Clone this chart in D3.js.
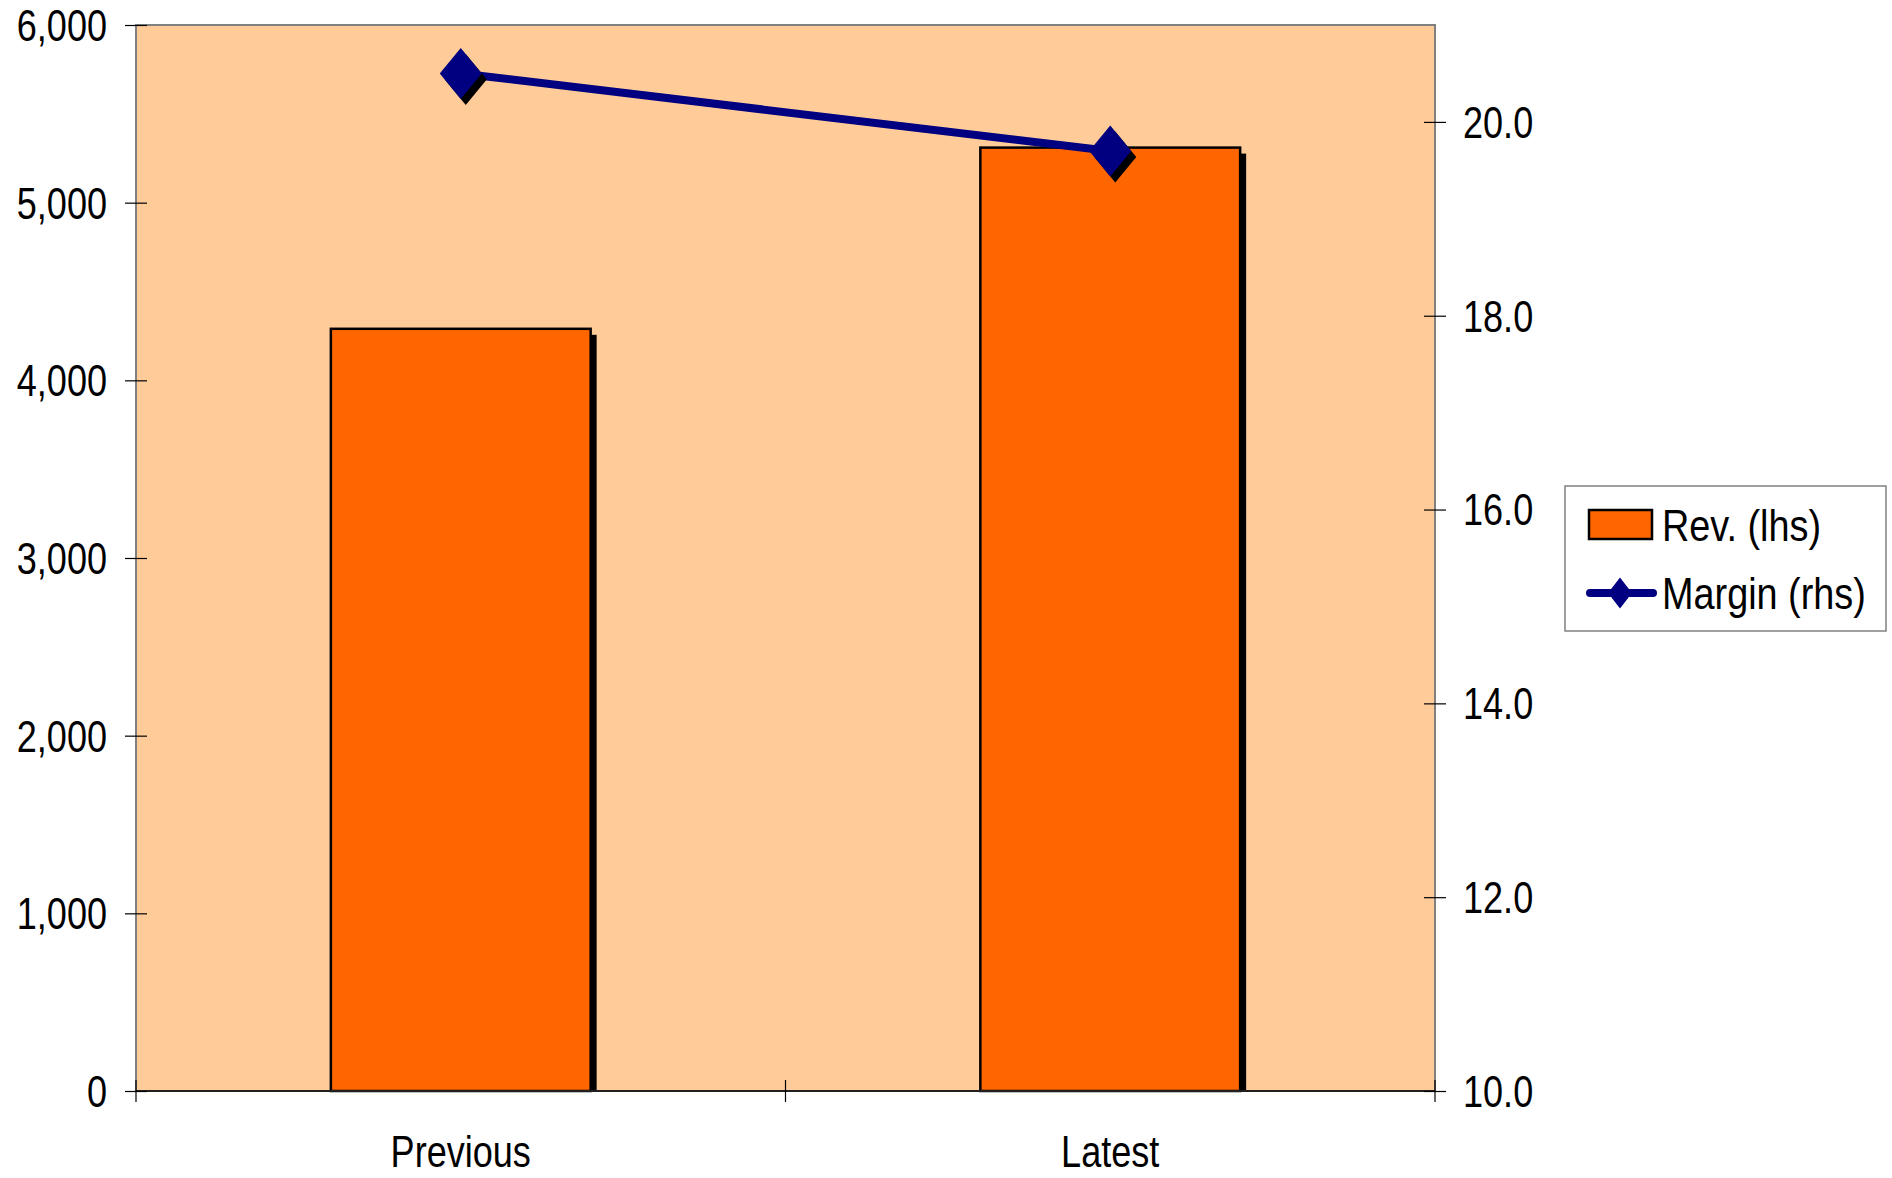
<!DOCTYPE html>
<html>
<head>
<meta charset="utf-8">
<script src="https://cdn.jsdelivr.net/npm/d3@7"></script>
<style>
  html, body { margin: 0; padding: 0; background: #ffffff; }
  svg text { font-family: "Liberation Sans", Arial, sans-serif; fill: #000; }
</style>
</head>
<body>
<svg id="chart" width="1892" height="1178"></svg>
<script>
// Revenue (left axis) and margin (right axis) for two periods
const categories = ["Previous", "Latest"];
const revenue = [4290, 5310];
const margin = [20.5, 19.7];
const leftTicks = [0, 1000, 2000, 3000, 4000, 5000, 6000];
const rightTicks = [10, 12, 14, 16, 18, 20];
const legendLabels = ["Rev. (lhs)", "Margin (rhs)"];

const W = 1892, H = 1178;
const plot = { left: 136, right: 1435, top: 25, bottom: 1091 };
const fontSize = 44;
const squeeze = 0.82; // condensed lettering

const svg = d3.select("#chart");

// place a condensed text at absolute x (x given in page units)
function narrow(sel, xPos, k = squeeze) {
  sel.attr("transform", `scale(${k},1)`)
     .attr("x", typeof xPos === "function" ? (d, i) => xPos(d, i) / k : xPos / k);
  return sel;
}

const x = d3.scaleBand()
  .domain(categories)
  .range([plot.left, plot.right])
  .paddingInner(0.6)
  .paddingOuter(0.3);

const yL = d3.scaleLinear().domain([0, 6000]).range([plot.bottom, plot.top]);
const yR = d3.scaleLinear().domain([10, 21]).range([plot.bottom, plot.top]);

// plot area background
svg.append("rect")
  .attr("x", plot.left).attr("y", plot.top)
  .attr("width", plot.right - plot.left).attr("height", plot.bottom - plot.top)
  .attr("fill", "#FFCC99");

// bar shadows then bars
const shadow = 6;
svg.append("g").selectAll("rect")
  .data(categories)
  .join("rect")
  .attr("x", d => x(d) + shadow)
  .attr("y", (d, i) => yL(revenue[i]) + shadow)
  .attr("width", x.bandwidth())
  .attr("height", (d, i) => plot.bottom - yL(revenue[i]) - shadow)
  .attr("fill", "#000");

svg.append("g").selectAll("rect")
  .data(categories)
  .join("rect")
  .attr("x", d => x(d))
  .attr("y", (d, i) => yL(revenue[i]))
  .attr("width", x.bandwidth())
  .attr("height", (d, i) => plot.bottom - yL(revenue[i]))
  .attr("fill", "#FF6600")
  .attr("stroke", "#000")
  .attr("stroke-width", 2.5);

// plot frame
svg.append("rect")
  .attr("x", plot.left).attr("y", plot.top)
  .attr("width", plot.right - plot.left).attr("height", plot.bottom - plot.top)
  .attr("fill", "none")
  .attr("stroke", "#808080")
  .attr("stroke-width", 2);

// left axis
const gL = svg.append("g")
  .attr("transform", `translate(${plot.left},0)`)
  .call(d3.axisLeft(yL).tickValues(leftTicks).tickFormat(d3.format(",")).tickSize(11));
gL.select(".domain").remove();
gL.selectAll(".tick line").attr("x2", -11).attr("x1", 11).attr("stroke", "#000").attr("stroke-width", 1.2);
narrow(gL.selectAll(".tick text"), -29)
  .attr("font-size", fontSize)
  .attr("dy", "0.35em");

// right axis
const gR = svg.append("g")
  .attr("transform", `translate(${plot.right},0)`)
  .call(d3.axisRight(yR).tickValues(rightTicks).tickFormat(d3.format(".1f")).tickSize(11));
gR.select(".domain").remove();
gR.selectAll(".tick line").attr("x1", -11).attr("x2", 11).attr("stroke", "#000").attr("stroke-width", 1.2);
narrow(gR.selectAll(".tick text"), 28)
  .attr("font-size", fontSize)
  .attr("dy", "0.35em");

// category axis: baseline, boundary ticks and labels
svg.append("line")
  .attr("x1", plot.left).attr("x2", plot.right)
  .attr("y1", plot.bottom).attr("y2", plot.bottom)
  .attr("stroke", "#000").attr("stroke-width", 1.5);

const half = (x.step() - x.bandwidth()) / 2;
const bounds = categories.map(c => x(c) - half).concat([x(categories[categories.length - 1]) + x.bandwidth() + half]);
svg.append("g").selectAll("line")
  .data(bounds)
  .join("line")
  .attr("x1", d => d).attr("x2", d => d)
  .attr("y1", plot.bottom - 11).attr("y2", plot.bottom + 11)
  .attr("stroke", "#000").attr("stroke-width", 1.2);

narrow(svg.append("g").selectAll("text")
  .data(categories)
  .join("text"), d => x(d) + x.bandwidth() / 2)
  .attr("y", 1167)
  .attr("text-anchor", "middle")
  .attr("font-size", fontSize)
  .text(d => d);

// margin line with diamond markers
const navy = "#000080";
const pts = categories.map((c, i) => [x(c) + x.bandwidth() / 2, yR(margin[i])]);
svg.append("path")
  .attr("d", d3.line()(pts))
  .attr("fill", "none")
  .attr("stroke", navy)
  .attr("stroke-width", 8)
  .attr("stroke-linecap", "round");

const dw = 21, dh = 25.5;
const diamond = (cx, cy, w, h) => `M${cx},${cy - h}L${cx + w},${cy}L${cx},${cy + h}L${cx - w},${cy}Z`;
svg.append("g").selectAll("path")
  .data(pts)
  .join("path")
  .attr("d", d => diamond(d[0] + 5, d[1] + 6, dw, dh))
  .attr("fill", "#000");
svg.append("g").selectAll("path")
  .data(pts)
  .join("path")
  .attr("d", d => diamond(d[0], d[1], dw, dh))
  .attr("fill", navy);

// legend
const lg = svg.append("g");
lg.append("rect")
  .attr("x", 1565).attr("y", 486).attr("width", 321).attr("height", 145)
  .attr("fill", "#fff").attr("stroke", "#808080").attr("stroke-width", 1.5);
lg.append("rect")
  .attr("x", 1589).attr("y", 510).attr("width", 63).attr("height", 29)
  .attr("fill", "#FF6600").attr("stroke", "#000").attr("stroke-width", 2.5);
lg.append("line")
  .attr("x1", 1590).attr("x2", 1653).attr("y1", 593).attr("y2", 593)
  .attr("stroke", navy).attr("stroke-width", 8).attr("stroke-linecap", "round");
lg.append("path")
  .attr("d", diamond(1620, 593, 12, 15.5))
  .attr("fill", navy);
narrow(lg.selectAll("text.lbl")
  .data(legendLabels)
  .join("text")
  .attr("class", "lbl"), 1662, 0.86)
  .attr("y", (d, i) => i === 0 ? 541 : 609)
  .attr("font-size", fontSize)
  .text(d => d);
</script>
</body>
</html>
